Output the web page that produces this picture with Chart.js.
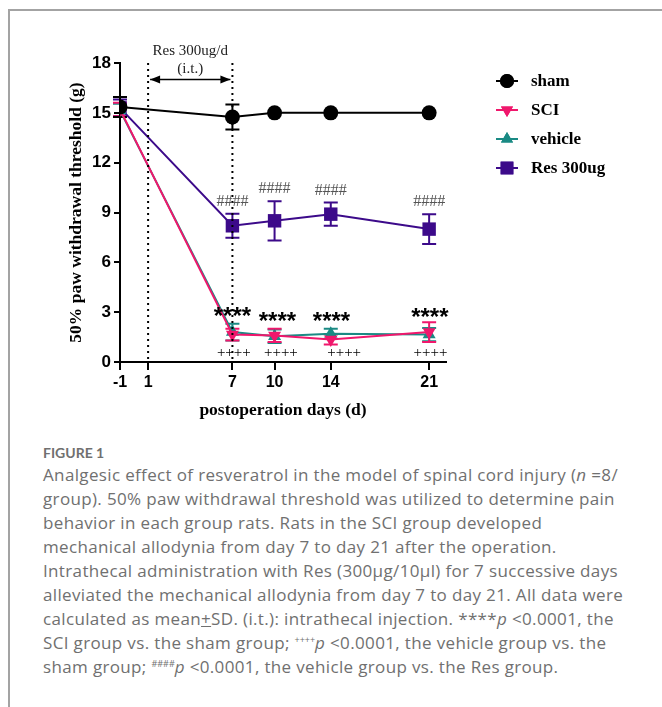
<!DOCTYPE html>
<html lang="en">
  <head>
    <meta charset="UTF-8" />
    <title>Figure 1</title>
    <script src="https://cdn.jsdelivr.net/npm/chart.js@4.4.1/dist/chart.umd.min.js"></script>
    <style>
      body { margin: 0; background: #fff; }
      #frame {
        position: absolute; left: 8px; top: 9px; right: 0; bottom: 0;
        border-top: 2px solid #a3a3a3; border-left: 2px solid #a3a3a3;
      }
      #myChart { position: absolute; left: 0; top: 0; }
      #caption {
        position: absolute; left: 43px; top: 443px;
        font-family: "Open Sans", Lato, sans-serif; color: #707070;
      }
      #caption .fig { font-family: Lato, sans-serif; font-size: 14px; font-weight: bold; line-height: 20px; }
      #caption .line { font-size: 17px; line-height: 24px; height: 24px; white-space: nowrap; letter-spacing: 0.35px; }
      #caption sup { font-size: 9px; line-height: 0; vertical-align: 6px; letter-spacing: 0; }
    </style>
  </head>
  <body>
    <div id="frame"></div>
    <canvas id="myChart" width="662" height="430"></canvas>

    <div id="caption">
      <div class="fig">FIGURE 1</div>
      <div class="line">Analgesic effect of resveratrol in the model of spinal cord injury (<i>n</i> =8/</div>
      <div class="line">group). 50% paw withdrawal threshold was utilized to determine pain</div>
      <div class="line">behavior in each group rats. Rats in the SCI group developed</div>
      <div class="line">mechanical allodynia from day 7 to day 21 after the operation.</div>
      <div class="line">Intrathecal administration with Res (300μg/10μl) for 7 successive days</div>
      <div class="line">alleviated the mechanical allodynia from day 7 to day 21. All data were</div>
      <div class="line">calculated as mean<u>+</u>SD. (i.t.): intrathecal injection. ****<i>p</i> &lt;0.0001, the</div>
      <div class="line">SCI group vs. the sham group; <sup>++++</sup><i>p</i> &lt;0.0001, the vehicle group vs. the</div>
      <div class="line">sham group; <sup>####</sup><i>p</i> &lt;0.0001, the vehicle group vs. the Res group.</div>
    </div>

    <script>
      // data
      const days = [-1, 7, 10, 14, 21];
      const xTicks = [-1, 1, 7, 10, 14, 21];
      const yTicks = [0, 3, 6, 9, 12, 15, 18];

      const sham = [15.35, 14.75, 15.0, 15.0, 15.0];
      const shamSd = [0.6, 0.75, 0, 0, 0];
      const sci = [15.2, 1.65, 1.6, 1.35, 1.8];
      const sciSd = [0.4, 0.35, 0.4, 0.3, 0.6];
      const vehicle = [15.15, 1.8, 1.55, 1.7, 1.65];
      const vehicleSd = [0.4, 0.5, 0.4, 0.3, 0.4];
      const res = [15.3, 8.2, 8.5, 8.9, 8.0];
      const resSd = [0.5, 0.72, 1.18, 0.7, 0.9];

      // treatment window (days) and significance marks
      const treatStart = 1;
      const treatEnd = 7;
      const hashDays = [7, 10, 14, 21];
      const starDays = [7, 10.2, 14.05, 21.05];
      const starY = [2.95, 2.6, 2.6, 2.85];
      const plusDays = [7.1, 10.45, 14.95, 21.1];
      const plusY = 0.55;

      const names = ["sham", "SCI", "vehicle", "Res 300ug"];
      const colors = ["#000000", "#f0176c", "#1a8a84", "#3c0a8a"];
      const markers = ["circle", "triangle", "triangle", "rect"];
      const rotations = [0, 180, 0, 0];
      const radii = [7.5, 7.5, 7.5, 9.5];

      const seriesVals = [sham, sci, vehicle, res];
      const seriesSd = [shamSd, sciSd, vehicleSd, resSd];

      const datasets = seriesVals.map((vals, i) => ({
        label: names[i],
        data: days.map((d, j) => ({ x: d, y: vals[j] })),
        borderColor: colors[i],
        backgroundColor: colors[i],
        borderWidth: 2,
        pointStyle: markers[i],
        pointRotation: rotations[i],
        pointRadius: radii[i],
        pointBorderWidth: 0,
        tension: 0,
      }));

      const serif = "'Liberation Serif', 'Times New Roman', serif";
      const sans = "'Liberation Sans', Arial, sans-serif";

      const errorBars = {
        id: "errorBars",
        beforeDatasetsDraw(chart) {
          const ctx = chart.ctx;
          const ys = chart.scales.y;
          for (let i = seriesVals.length - 1; i >= 0; i--) {
            const meta = chart.getDatasetMeta(i);
            ctx.save();
            ctx.strokeStyle = colors[i];
            ctx.lineWidth = 2;
            meta.data.forEach((pt, j) => {
              const sd = seriesSd[i][j];
              if (!sd) return;
              const top = ys.getPixelForValue(seriesVals[i][j] + sd);
              const bot = ys.getPixelForValue(seriesVals[i][j] - sd);
              ctx.beginPath();
              ctx.moveTo(pt.x, top); ctx.lineTo(pt.x, bot);
              ctx.moveTo(pt.x - 7, top); ctx.lineTo(pt.x + 7, top);
              ctx.moveTo(pt.x - 7, bot); ctx.lineTo(pt.x + 7, bot);
              ctx.stroke();
            });
            ctx.restore();
          }
        },
      };

      const annotations = {
        id: "annotations",
        afterDatasetsDraw(chart) {
          const ctx = chart.ctx;
          const xs = chart.scales.x;
          const ys = chart.scales.y;
          ctx.save();

          // dotted lines for the treatment window
          ctx.strokeStyle = "#000";
          ctx.lineWidth = 2;
          ctx.setLineDash([2, 4]);
          [treatStart, treatEnd].forEach((d) => {
            ctx.beginPath();
            ctx.moveTo(xs.getPixelForValue(d), ys.getPixelForValue(0) - 3);
            ctx.lineTo(xs.getPixelForValue(d), ys.getPixelForValue(18));
            ctx.stroke();
          });
          ctx.setLineDash([]);

          // double arrow
          const ax1 = xs.getPixelForValue(treatStart) + 2;
          const ax2 = xs.getPixelForValue(treatEnd) - 2;
          const ay = ys.getPixelForValue(17);
          ctx.lineWidth = 1.5;
          ctx.beginPath();
          ctx.moveTo(ax1, ay); ctx.lineTo(ax2, ay);
          ctx.stroke();
          ctx.beginPath();
          ctx.moveTo(ax1, ay); ctx.lineTo(ax1 + 10, ay - 4); ctx.lineTo(ax1 + 10, ay + 4); ctx.closePath();
          ctx.moveTo(ax2, ay); ctx.lineTo(ax2 - 10, ay - 4); ctx.lineTo(ax2 - 10, ay + 4); ctx.closePath();
          ctx.fillStyle = "#000";
          ctx.fill();

          ctx.textAlign = "center";
          ctx.textBaseline = "middle";
          ctx.fillStyle = "#222";
          ctx.font = "15px " + serif;
          const mid = xs.getPixelForValue((treatStart + treatEnd) / 2);
          ctx.fillText("Res 300ug/d", mid, ys.getPixelForValue(18.7));
          ctx.fillText("(i.t.)", mid, ys.getPixelForValue(17.65));

          // #### above the Res group
          ctx.fillStyle = "#555";
          ctx.font = "16px " + serif;
          hashDays.forEach((d) => {
            const j = days.indexOf(d);
            const top = ys.getPixelForValue(res[j] + resSd[j]);
            ctx.fillText("####", xs.getPixelForValue(d), top - 12);
          });

          // **** SCI vs sham
          ctx.fillStyle = "#000";
          ctx.font = "bold 24px " + sans;
          starDays.forEach((d, k) => {
            ctx.fillText("****", xs.getPixelForValue(d), ys.getPixelForValue(starY[k]) + 4);
          });

          // ++++ vehicle vs sham
          ctx.font = "15px " + serif;
          plusDays.forEach((d) => {
            ctx.fillText("++++", xs.getPixelForValue(d), ys.getPixelForValue(plusY));
          });
          ctx.restore();
        },
      };

      const legendBox = {
        id: "legendBox",
        afterDraw(chart) {
          const ctx = chart.ctx;
          ctx.save();
          names.forEach((name, i) => {
            const y = 81 + i * 29;
            ctx.strokeStyle = colors[i];
            ctx.fillStyle = colors[i];
            ctx.lineWidth = 2;
            ctx.beginPath();
            ctx.moveTo(496, y); ctx.lineTo(518, y);
            ctx.stroke();
            Chart.helpers.drawPoint(ctx, {
              pointStyle: markers[i],
              rotation: rotations[i],
              radius: radii[i] - 0.5,
              borderWidth: 0,
            }, 507, y);
            ctx.fill();
            ctx.fillStyle = "#000";
            ctx.font = "bold 17px " + serif;
            ctx.textAlign = "left";
            ctx.textBaseline = "middle";
            ctx.fillText(name, 531, y + 1);
          });
          ctx.restore();
        },
      };

      const config = {
        type: "line",
        data: { datasets },
        options: {
          responsive: false,
          animation: false,
          devicePixelRatio: 1,
          layout: { padding: { left: 0, right: 216, top: 63, bottom: 0 } },
          plugins: { legend: { display: false }, tooltip: { enabled: false } },
          scales: {
            x: {
              type: "linear",
              min: -1,
              max: 22.2,
              afterBuildTicks(axis) { axis.ticks = xTicks.map((v) => ({ value: v })); },
              afterFit(axis) { axis.height = 68; },
              border: { display: true, color: "#000", width: 2 },
              grid: { drawOnChartArea: false, drawTicks: true, tickLength: 8, color: "#000", lineWidth: 2 },
              ticks: { color: "#000", padding: 3, font: { family: sans, size: 16, weight: "bold" }, maxRotation: 0 },
              title: {
                display: true,
                text: "postoperation days (d)",
                color: "#000",
                font: { family: serif, size: 17.5, weight: "bold" },
                padding: { top: 0, bottom: 9 },
              },
            },
            y: {
              min: 0,
              max: 18,
              afterBuildTicks(axis) { axis.ticks = yTicks.map((v) => ({ value: v })); },
              afterFit(axis) { axis.width = 120; },
              border: { display: true, color: "#000", width: 2 },
              grid: { drawOnChartArea: false, drawTicks: true, tickLength: 6, color: "#000", lineWidth: 2 },
              ticks: { color: "#000", padding: 3, font: { family: sans, size: 17, weight: "bold" } },
              title: {
                display: true,
                text: "50% paw withdrawal threshold (g)",
                color: "#000",
                font: { family: serif, size: 17.5, weight: "bold" },
                padding: { top: 66, bottom: 0 },
              },
            },
          },
        },
        plugins: [errorBars, annotations, legendBox],
      };

      var myChart = new Chart(document.getElementById("myChart"), config);
    </script>
  </body>
</html>
